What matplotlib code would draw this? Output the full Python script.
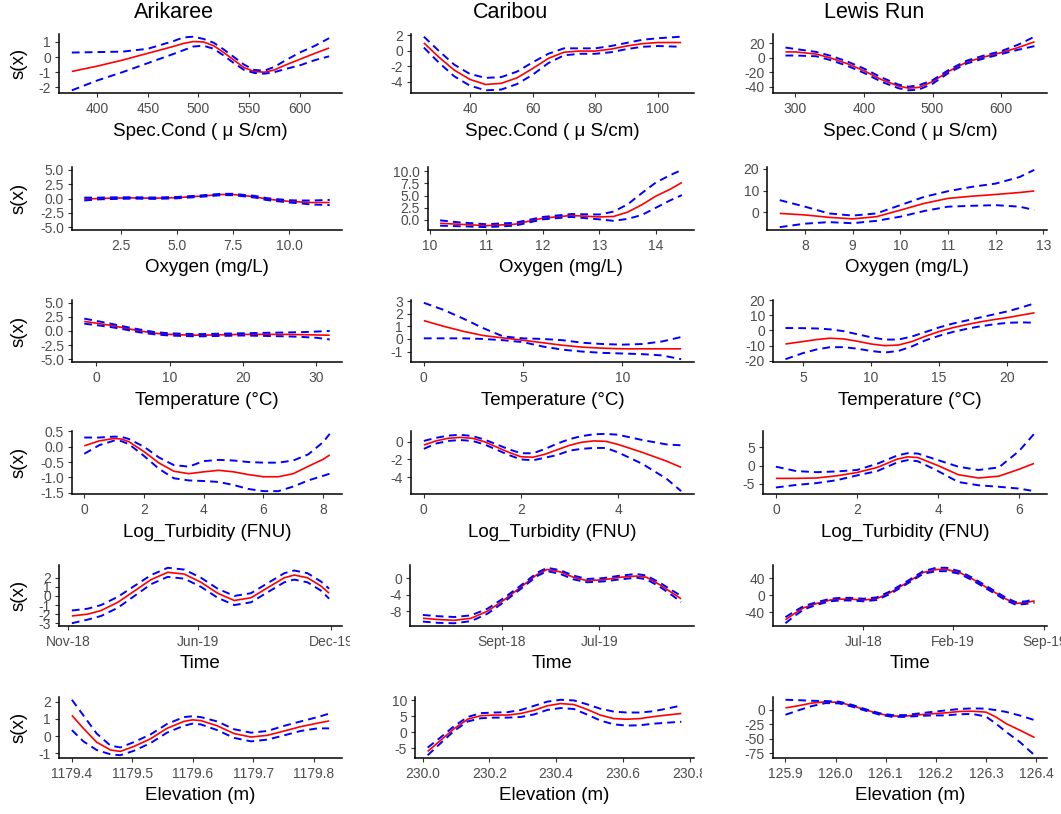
import matplotlib.pyplot as plt
from matplotlib.transforms import Bbox, TransformedBbox

plt.rcParams['font.family'] = ['Liberation Sans', 'DejaVu Sans']

# ---------------- Arikaree ----------------
ari_cond_x = [375, 400, 425, 450, 475, 485, 495, 505, 515, 525, 535, 545, 555, 565, 575, 585, 600, 615, 629]
ari_cond_fit = [-0.95, -0.6, -0.2, 0.25, 0.7, 0.9, 1.03, 1.0, 0.75, 0.3, -0.2, -0.7, -0.95, -1.0, -0.85, -0.55, -0.15, 0.25, 0.6]
ari_cond_hi = [0.3, 0.33, 0.36, 0.55, 1.05, 1.3, 1.35, 1.2, 0.95, 0.5, 0.0, -0.5, -0.85, -0.9, -0.65, -0.25, 0.3, 0.75, 1.25]
ari_cond_lo = [-2.2, -1.55, -1.0, -0.4, 0.2, 0.45, 0.7, 0.75, 0.55, 0.1, -0.4, -0.85, -1.05, -1.1, -1.0, -0.8, -0.55, -0.2, 0.05]

ari_oxy_x = [0.86, 1.5, 2, 3, 4, 5, 6, 6.5, 7, 7.5, 8, 8.5, 9, 9.5, 10, 10.5, 11, 11.82]
ari_oxy_fit = [-0.1, 0.0, 0.05, 0.1, 0.05, 0.15, 0.4, 0.55, 0.7, 0.7, 0.5, 0.3, -0.1, -0.3, -0.5, -0.6, -0.7, -0.7]
ari_oxy_hi = [0.15, 0.15, 0.2, 0.22, 0.17, 0.27, 0.52, 0.67, 0.82, 0.82, 0.63, 0.45, 0.07, -0.12, -0.3, -0.35, -0.35, -0.25]
ari_oxy_lo = [-0.35, -0.15, -0.1, -0.02, -0.07, 0.03, 0.28, 0.43, 0.58, 0.58, 0.37, 0.15, -0.27, -0.48, -0.7, -0.85, -1.05, -1.15]

ari_temp_x = [-1.6, 0, 2, 4, 6, 8, 10, 12, 14, 16, 18, 20, 22, 24, 26, 28, 30, 31.8]
ari_temp_fit = [1.7, 1.4, 1.0, 0.5, 0.0, -0.4, -0.6, -0.7, -0.75, -0.7, -0.65, -0.6, -0.6, -0.6, -0.6, -0.65, -0.7, -0.75]
ari_temp_hi = [2.2, 1.8, 1.3, 0.75, 0.25, -0.2, -0.4, -0.5, -0.55, -0.5, -0.45, -0.4, -0.35, -0.3, -0.25, -0.2, -0.1, 0.0]
ari_temp_lo = [1.3, 1.05, 0.7, 0.25, -0.25, -0.6, -0.8, -0.9, -0.95, -0.9, -0.85, -0.8, -0.85, -0.9, -0.95, -1.05, -1.2, -1.5]

ari_turb_x = [0, 0.5, 1, 1.25, 1.5, 2, 2.5, 3, 3.5, 4, 4.5, 5, 5.5, 6, 6.5, 7, 7.5, 8, 8.22]
ari_turb_fit = [0.03, 0.19, 0.27, 0.25, 0.16, -0.16, -0.53, -0.8, -0.88, -0.82, -0.77, -0.82, -0.91, -0.98, -0.98, -0.88, -0.64, -0.41, -0.27]
ari_turb_hi = [0.3, 0.3, 0.33, 0.32, 0.25, 0.0, -0.35, -0.6, -0.65, -0.47, -0.43, -0.45, -0.5, -0.52, -0.52, -0.45, -0.25, 0.15, 0.42]
ari_turb_lo = [-0.23, 0.05, 0.2, 0.18, 0.08, -0.3, -0.72, -1.03, -1.1, -1.12, -1.15, -1.25, -1.38, -1.45, -1.45, -1.3, -1.1, -0.95, -0.88]

# time in days after the Nov-18 tick
ari_time_x = [6, 30, 50, 75, 100, 125, 150, 175, 200, 225, 250, 275, 300, 325, 340, 360, 380, 392.5]
ari_time_fit = [-2.2, -2.0, -1.6, -0.7, 0.55, 1.8, 2.6, 2.4, 1.5, 0.3, -0.5, -0.2, 0.9, 2.0, 2.3, 2.0, 1.1, 0.3]
ari_time_hi = [-1.6, -1.4, -1.0, -0.1, 1.1, 2.3, 3.1, 2.9, 2.0, 0.8, 0.0, 0.3, 1.4, 2.5, 2.8, 2.5, 1.6, 0.8]
ari_time_lo = [-3.0, -2.6, -2.2, -1.3, 0.0, 1.3, 2.1, 1.9, 1.0, -0.2, -1.0, -0.7, 0.4, 1.5, 1.8, 1.5, 0.6, -0.3]
ari_time_ticks = [0, 195, 395]
ari_time_labels = ['Nov-18', 'Jun-19', 'Dec-19']

ari_elev_x = [1179.4, 1179.419, 1179.441, 1179.464, 1179.48, 1179.502, 1179.53, 1179.557, 1179.585, 1179.599,
              1179.613, 1179.64, 1179.668, 1179.696, 1179.723, 1179.751, 1179.778, 1179.806, 1179.825]
ari_elev_fit = [1.2, 0.45, -0.35, -0.8, -0.88, -0.6, -0.15, 0.45, 0.85, 0.94, 0.9, 0.6, 0.15, -0.05, 0.05, 0.3, 0.55, 0.75, 0.88]
ari_elev_hi = [2.1, 1.2, 0.15, -0.55, -0.65, -0.35, 0.1, 0.7, 1.1, 1.15, 1.1, 0.85, 0.4, 0.2, 0.3, 0.6, 0.85, 1.1, 1.3]
ari_elev_lo = [0.35, -0.3, -0.8, -1.05, -1.1, -0.85, -0.4, 0.2, 0.6, 0.72, 0.68, 0.35, -0.1, -0.3, -0.2, 0.05, 0.3, 0.45, 0.45]

# ---------------- Caribou ----------------
car_cond_x = [25.3, 30, 35, 40, 45, 50, 55, 60, 65, 70, 75, 80, 85, 90, 95, 100, 107.4]
car_cond_fit = [1.0, -0.8, -2.5, -3.7, -4.35, -4.2, -3.5, -2.3, -1.0, -0.2, -0.05, -0.05, 0.2, 0.6, 0.9, 1.05, 1.05]
car_cond_hi = [1.8, 0.0, -1.8, -3.0, -3.5, -3.4, -2.7, -1.5, -0.4, 0.3, 0.3, 0.3, 0.6, 1.0, 1.4, 1.6, 1.8]
car_cond_lo = [0.4, -1.5, -3.3, -4.5, -5.1, -5.0, -4.3, -3.1, -1.6, -0.6, -0.4, -0.4, -0.2, 0.2, 0.5, 0.6, 0.5]

car_oxy_x = [10.18, 10.5, 11, 11.5, 12, 12.5, 13, 13.25, 13.5, 13.75, 14, 14.25, 14.46]
car_oxy_fit = [-0.7, -0.9, -1.2, -0.9, 0.35, 0.9, 0.6, 0.7, 1.6, 3.1, 4.9, 6.3, 7.7]
car_oxy_hi = [-0.1, -0.5, -0.9, -0.6, 0.6, 1.2, 1.1, 1.7, 3.2, 5.5, 7.7, 9.2, 10.3]
car_oxy_lo = [-1.2, -1.3, -1.5, -1.2, 0.1, 0.6, 0.1, -0.2, 0.2, 1.0, 2.5, 4.0, 5.1]

car_temp_x = [0, 1, 2, 3, 4, 5, 6, 7, 8, 9, 10, 11, 12, 12.97]
car_temp_fit = [1.45, 1.0, 0.6, 0.27, 0.08, -0.1, -0.3, -0.5, -0.65, -0.73, -0.78, -0.78, -0.78, -0.78]
car_temp_hi = [2.86, 2.3, 1.6, 0.85, 0.2, 0.05, 0.0, -0.1, -0.3, -0.4, -0.45, -0.4, -0.2, 0.15]
car_temp_lo = [0.05, 0.05, 0.05, 0.0, -0.1, -0.25, -0.6, -0.85, -1.0, -1.1, -1.15, -1.2, -1.3, -1.6]

car_turb_x = [0, 0.25, 0.5, 0.75, 1.0, 1.25, 1.5, 1.75, 2.0, 2.25, 2.5, 2.75, 3.0, 3.25, 3.5, 3.75, 4.0, 4.5, 5.0, 5.3]
car_turb_fit = [-0.37, 0.1, 0.4, 0.5, 0.4, 0.0, -0.6, -1.2, -1.7, -1.75, -1.4, -0.9, -0.4, -0.05, 0.1, 0.05, -0.3, -1.2, -2.2, -2.9]
car_turb_hi = [0.1, 0.45, 0.7, 0.8, 0.65, 0.25, -0.3, -0.85, -1.3, -1.3, -0.8, -0.2, 0.3, 0.65, 0.85, 0.9, 0.8, 0.2, -0.3, -0.4]
car_turb_lo = [-0.8, -0.2, 0.1, 0.2, 0.1, -0.3, -0.9, -1.5, -2.0, -2.1, -1.8, -1.5, -1.0, -0.8, -0.7, -0.7, -1.2, -2.5, -4.2, -5.6]

# time in days after the Sept-18 tick
car_time_x = [-244, -198, -147, -95, -44, 7, 59, 110, 141, 182, 223, 264, 315, 367, 418, 449, 490, 531, 556]
car_time_fit = [-9.7, -10.0, -10.2, -9.7, -8.0, -5.3, -2.2, 0.9, 2.1, 1.5, 0.2, -0.6, -0.4, 0.2, 0.5, 0.2, -1.6, -3.7, -5.0]
car_time_hi = [-8.9, -9.2, -9.4, -9.0, -7.4, -4.8, -1.8, 1.3, 2.5, 1.9, 0.6, -0.2, 0.0, 0.6, 1.0, 0.6, -1.1, -3.1, -4.3]
car_time_lo = [-10.5, -10.8, -10.9, -10.4, -8.6, -5.8, -2.6, 0.5, 1.7, 1.0, -0.3, -1.0, -0.8, -0.3, 0.1, -0.3, -2.1, -4.3, -5.8]
car_time_ticks = [0, 303]
car_time_labels = ['Sept-18', 'Jul-19']

car_elev_x = [230.015, 230.055, 230.095, 230.135, 230.174, 230.214, 230.254, 230.294, 230.334, 230.373,
              230.413, 230.453, 230.492, 230.532, 230.572, 230.611, 230.651, 230.691, 230.731, 230.775]
car_elev_fit = [-6.0, -2.4, 1.2, 4.1, 5.2, 5.4, 5.4, 5.9, 6.9, 8.3, 9.0, 8.7, 7.2, 5.4, 4.3, 4.1, 4.3, 4.9, 5.4, 5.9]
car_elev_hi = [-4.8, -1.5, 2.0, 4.8, 6.0, 6.2, 6.3, 7.0, 8.3, 9.6, 10.2, 10.0, 8.8, 7.4, 6.5, 6.2, 6.2, 6.6, 7.4, 8.4]
car_elev_lo = [-7.2, -3.3, 0.5, 3.4, 4.4, 4.6, 4.6, 4.8, 5.6, 7.0, 7.6, 7.3, 5.6, 3.7, 2.5, 2.1, 2.2, 2.7, 3.0, 3.3]

# ---------------- Lewis Run ----------------
lew_cond_x = [285.4, 300, 330, 350, 375, 400, 425, 450, 465, 480, 500, 525, 550, 575, 600, 625, 648.8]
lew_cond_fit = [8, 8, 5, 0, -8, -18, -30, -39, -42, -41, -33, -18, -6, 1, 7, 14, 22]
lew_cond_hi = [14, 12, 8, 3, -5, -15, -27, -37, -40, -38, -31, -16, -4, 3, 9, 18, 29]
lew_cond_lo = [3, 3, 2, -3, -11, -21, -33, -42, -45, -44, -36, -20, -8, -1, 5, 11, 16]

lew_oxy_x = [7.47, 8, 8.5, 9, 9.5, 10, 10.5, 11, 11.5, 12, 12.5, 12.81]
lew_oxy_fit = [-0.5, -1.2, -2.3, -3.0, -2.0, 1.0, 4.1, 6.4, 7.4, 8.2, 9.1, 9.8]
lew_oxy_hi = [5.6, 2.6, -0.5, -1.5, -0.5, 3.3, 7.1, 9.7, 11.7, 13.2, 16.2, 19.5]
lew_oxy_lo = [-6.8, -5.2, -4.5, -5.0, -3.9, -2.0, 0.6, 2.6, 3.0, 3.3, 2.6, 1.1]

lew_temp_x = [3.72, 5, 6, 7, 8, 9, 10, 11, 12, 13, 14, 15, 16, 17, 18, 19, 20, 21, 22]
lew_temp_fit = [-8.9, -7.3, -6.0, -5.1, -5.6, -7.1, -8.9, -10.0, -9.6, -7.3, -3.8, -0.7, 1.8, 3.8, 5.6, 7.1, 8.4, 10.0, 11.6]
lew_temp_hi = [1.6, 1.5, 1.3, 0.7, -0.5, -2.5, -4.5, -6.0, -6.0, -4.0, -1.0, 2.0, 4.5, 6.5, 8.5, 10.5, 12.5, 15.0, 17.8]
lew_temp_lo = [-18.9, -14.9, -12.5, -11.0, -11.0, -12.0, -13.5, -14.5, -13.5, -10.5, -6.5, -3.5, -1.0, 1.0, 2.7, 4.0, 5.0, 5.3, 5.1]

lew_turb_x = [0, 0.5, 1, 1.5, 2, 2.5, 3, 3.25, 3.5, 4, 4.5, 5, 5.5, 6, 6.37]
lew_turb_fit = [-3.5, -3.5, -3.4, -2.8, -1.9, -0.5, 1.8, 2.4, 2.2, 0.0, -2.5, -3.4, -2.9, -1.0, 0.6]
lew_turb_hi = [-0.3, -1.5, -1.8, -1.6, -1.2, 0.5, 2.8, 3.4, 3.3, 1.5, -0.3, -1.2, -0.5, 4.0, 8.7]
lew_turb_lo = [-6.0, -5.3, -4.8, -4.0, -2.7, -1.5, 0.9, 1.5, 1.2, -1.5, -4.5, -5.4, -5.8, -6.3, -7.0]

# time in days after the Jul-18 tick
lew_time_x = [-184, -165, -141, -110, -78, -55, -31, 0, 31, 63, 102, 141, 172, 196, 227, 259, 298, 337, 360, 384, 404]
lew_time_fit = [-57, -44, -29, -19, -11, -9, -9, -11, -8, 6, 29, 53, 60, 60, 53, 37, 14, -9, -19, -17, -13]
lew_time_hi = [-51, -39, -25, -16, -8, -6, -6, -8, -5, 9, 32, 56, 64, 64, 56, 40, 17, -6, -16, -14, -9]
lew_time_lo = [-65, -50, -33, -22, -14, -12, -12, -14, -11, 3, 26, 50, 56, 56, 50, 34, 11, -12, -22, -20, -17]
lew_time_ticks = [0, 212, 427]
lew_time_labels = ['Jul-18', 'Feb-19', 'Sep-19']

lew_elev_x = [125.9, 125.927, 125.953, 125.98, 126.007, 126.033, 126.06, 126.087, 126.113, 126.14,
              126.167, 126.193, 126.22, 126.247, 126.273, 126.3, 126.32, 126.34, 126.367, 126.397]
lew_elev_fit = [2.8, 6.7, 11.1, 13.3, 12.2, 6.7, -0.6, -7.2, -11.1, -11.1, -8.9, -7.2, -5.6, -3.3, -2.8, -4.4, -12.8, -23.9, -35, -47.8]
lew_elev_hi = [16.7, 16, 15, 14.5, 13.5, 8, 0.5, -6, -9.5, -9.5, -6.5, -4, -1.5, 1, 2, 1.5, -1, -4, -10, -18]
lew_elev_lo = [-8.9, -1, 6, 11, 10.5, 5, -2, -8.5, -12.5, -12.5, -11, -10, -10, -8, -7.5, -12, -24, -38, -55, -78]

sites = ['Arikaree', 'Caribou', 'Lewis Run']
row_labels = ['Spec.Cond ( μ S/cm)', 'Oxygen (mg/L)', 'Temperature (°C)',
              'Log_Turbidity (FNU)', 'Time', 'Elevation (m)']

W, H = 1061, 814
fig = plt.figure(figsize=(W / 100, H / 100), dpi=100)

# pixel layout
row_top = [34, 167, 300, 431, 565, 697]
row_bot = [93, 230, 362, 494, 626, 758]
col_right = [342, 694, 1047]
col_left = [[59, 411, 773], [72, 428, 767], [72, 411, 773],
            [72, 411, 763], [59, 410, 773], [59, 415, 773]]
cell_edges = [0, 350, 702, 1061]


def fmt(vals, nd):
    return [('%.' + str(nd) + 'f') % v for v in vals]


panels = [
    # row 1
    [(ari_cond_x, ari_cond_fit, ari_cond_hi, ari_cond_lo, [400, 450, 500, 550, 600], None, [-2, -1, 0, 1], None, None),
     (car_cond_x, car_cond_fit, car_cond_hi, car_cond_lo, [40, 60, 80, 100], None, [-4, -2, 0, 2], None, None),
     (lew_cond_x, lew_cond_fit, lew_cond_hi, lew_cond_lo, [300, 400, 500, 600], None, [-40, -20, 0, 20], None, None)],
    # row 2
    [(ari_oxy_x, ari_oxy_fit, ari_oxy_hi, ari_oxy_lo, [2.5, 5, 7.5, 10], fmt([2.5, 5, 7.5, 10], 1),
      [-5, -2.5, 0, 2.5, 5], fmt([-5, -2.5, 0, 2.5, 5], 1), (-5.5, 5.5)),
     (car_oxy_x, car_oxy_fit, car_oxy_hi, car_oxy_lo, [10, 11, 12, 13, 14], None,
      [0, 2.5, 5, 7.5, 10], fmt([0, 2.5, 5, 7.5, 10], 1), None),
     (lew_oxy_x, lew_oxy_fit, lew_oxy_hi, lew_oxy_lo, [8, 9, 10, 11, 12, 13], None, [0, 10, 20], None, None)],
    # row 3
    [(ari_temp_x, ari_temp_fit, ari_temp_hi, ari_temp_lo, [0, 10, 20, 30], None,
      [-5, -2.5, 0, 2.5, 5], fmt([-5, -2.5, 0, 2.5, 5], 1), (-5.5, 5.5)),
     (car_temp_x, car_temp_fit, car_temp_hi, car_temp_lo, [0, 5, 10], None, [-1, 0, 1, 2, 3], None, None),
     (lew_temp_x, lew_temp_fit, lew_temp_hi, lew_temp_lo, [5, 10, 15, 20], None, [-20, -10, 0, 10, 20], None, None)],
    # row 4
    [(ari_turb_x, ari_turb_fit, ari_turb_hi, ari_turb_lo, [0, 2, 4, 6, 8], None,
      [-1.5, -1, -0.5, 0, 0.5], fmt([-1.5, -1, -0.5, 0, 0.5], 1), None),
     (car_turb_x, car_turb_fit, car_turb_hi, car_turb_lo, [0, 2, 4], None, [-4, -2, 0], None, None),
     (lew_turb_x, lew_turb_fit, lew_turb_hi, lew_turb_lo, [0, 2, 4, 6], None, [-5, 0, 5], None, None)],
    # row 5
    [(ari_time_x, ari_time_fit, ari_time_hi, ari_time_lo, ari_time_ticks, ari_time_labels,
      [-3, -2, -1, 0, 1, 2], None, None),
     (car_time_x, car_time_fit, car_time_hi, car_time_lo, car_time_ticks, car_time_labels, [-8, -4, 0], None, None),
     (lew_time_x, lew_time_fit, lew_time_hi, lew_time_lo, lew_time_ticks, lew_time_labels, [-40, 0, 40], None, None)],
    # row 6
    [(ari_elev_x, ari_elev_fit, ari_elev_hi, ari_elev_lo, [1179.4, 1179.5, 1179.6, 1179.7, 1179.8],
      fmt([1179.4, 1179.5, 1179.6, 1179.7, 1179.8], 1), [-1, 0, 1, 2], None, None),
     (car_elev_x, car_elev_fit, car_elev_hi, car_elev_lo, [230.0, 230.2, 230.4, 230.6, 230.8],
      fmt([230.0, 230.2, 230.4, 230.6, 230.8], 1), [-5, 0, 5, 10], None, None),
     (lew_elev_x, lew_elev_fit, lew_elev_hi, lew_elev_lo, [125.9, 126.0, 126.1, 126.2, 126.3, 126.4],
      fmt([125.9, 126.0, 126.1, 126.2, 126.3, 126.4], 1), [-75, -50, -25, 0], None, None)],
]

for r in range(6):
    for c in range(3):
        x, fit, hi, lo, xt, xtl, yt, ytl, ylim = panels[r][c]
        left, right = col_left[r][c], col_right[c]
        top, bot = row_top[r], row_bot[r]
        ax = fig.add_axes([left / W, 1 - bot / H, (right - left) / W, (bot - top) / H])
        ax.plot(x, fit, color='red', lw=1.2, solid_capstyle='butt')
        ax.plot(x, hi, color='blue', lw=1.4, linestyle=(0, (4, 2.6)))
        ax.plot(x, lo, color='blue', lw=1.4, linestyle=(0, (4, 2.6)))
        ax.margins(x=0.05, y=0.05)
        if ylim is not None:
            ax.set_ylim(*ylim)
        ax.set_xticks(xt, xtl if xtl is not None else [str(v) for v in xt])
        ax.set_yticks(yt, ytl if ytl is not None else [str(v) for v in yt])
        for s in ['top', 'right']:
            ax.spines[s].set_visible(False)
        for s in ['left', 'bottom']:
            ax.spines[s].set_linewidth(1.1)
            ax.spines[s].set_color('black')
        ax.tick_params(direction='out', length=2.6, width=0.8, color='#333333',
                       labelsize=10, labelcolor='#4D4D4D')
        ax.tick_params(axis='x', pad=4.2)
        ax.tick_params(axis='y', pad=3.2)
        ax.set_facecolor('white')
        # labels that run past the plot cell are cut, as in the original
        clip = TransformedBbox(Bbox.from_extents(cell_edges[c] / W, 0, cell_edges[c + 1] / W, 1),
                               fig.transFigure)
        for t in ax.get_xticklabels():
            t.set_clip_box(clip)
            t.set_clip_on(True)
        fig.text((left + right) / 2 / W, 1 - (bot + 38) / H, row_labels[r],
                 ha='center', va='center', fontsize=13.5)
        if c == 0:
            fig.text(19 / W, 1 - (top + bot) / 2 / H, 's(x)', rotation=90,
                     ha='center', va='center', fontsize=13.5)

title_x = [174, 510, 874]
for c in range(3):
    fig.text(title_x[c] / W, 1 - 12 / H, sites[c], ha='center', va='center', fontsize=15.5)

fig.savefig('out.png', dpi=100)
